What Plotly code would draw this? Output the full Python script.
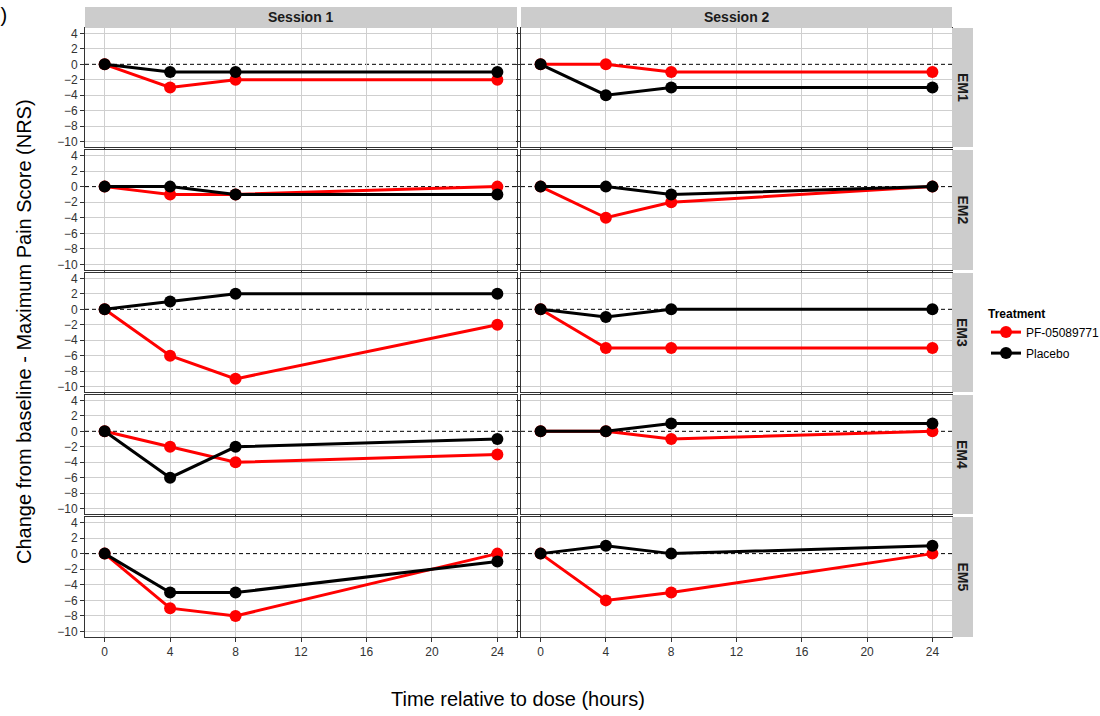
import plotly.graph_objects as go

times = [0, 4, 8, 24]
sessions = ["Session 1", "Session 2"]
subjects = ["EM1", "EM2", "EM3", "EM4", "EM5"]
treatments = ["PF-05089771", "Placebo"]
colors = {"PF-05089771": "#FF0000", "Placebo": "#000000"}

pf_session1 = {"EM1": [0, -3, -2, -2], "EM2": [0, -1, -1, 0], "EM3": [0, -6, -9, -2],
               "EM4": [0, -2, -4, -3], "EM5": [0, -7, -8, 0]}
placebo_session1 = {"EM1": [0, -1, -1, -1], "EM2": [0, 0, -1, -1], "EM3": [0, 1, 2, 2],
                    "EM4": [0, -6, -2, -1], "EM5": [0, -5, -5, -1]}
pf_session2 = {"EM1": [0, 0, -1, -1], "EM2": [0, -4, -2, 0], "EM3": [0, -5, -5, -5],
               "EM4": [0, 0, -1, 0], "EM5": [0, -6, -5, 0]}
placebo_session2 = {"EM1": [0, -4, -3, -3], "EM2": [0, 0, -1, 0], "EM3": [0, -1, 0, 0],
                    "EM4": [0, 0, 1, 1], "EM5": [0, 1, 0, 1]}

data = {("Session 1", "PF-05089771"): pf_session1, ("Session 1", "Placebo"): placebo_session1,
        ("Session 2", "PF-05089771"): pf_session2, ("Session 2", "Placebo"): placebo_session2}

x_ticks = [0, 4, 8, 12, 16, 20, 24]
y_ticks = [4, 2, 0, -2, -4, -6, -8, -10]
y_grid = [v for v in y_ticks if v != 0]

W, H = 1100, 716
col_px = [(85, 517), (521, 952)]
row_px = [(28, 147), (150, 270), (273, 392), (395, 514), (517, 637)]

fig = go.Figure()
layout = {}
font = "Arial, Liberation Sans, sans-serif"

for r, subj in enumerate(subjects):
    for c, sess in enumerate(sessions):
        n = r * 2 + c + 1
        xa = "x" if n == 1 else f"x{n}"
        ya = "y" if n == 1 else f"y{n}"
        for tr in treatments:
            fig.add_trace(go.Scatter(
                x=times, y=data[(sess, tr)][subj], mode="lines+markers",
                line=dict(color=colors[tr], width=3),
                marker=dict(color=colors[tr], size=12),
                name=tr, legendgroup=tr, showlegend=(n == 1),
                xaxis=xa, yaxis=ya, hoverinfo="skip"))
        x0, x1 = col_px[c]
        y0, y1 = row_px[r]
        key = "" if n == 1 else str(n)
        layout[f"xaxis{key}"] = dict(
            domain=[x0 / W, x1 / W], anchor=ya, range=[-1.2, 25.2],
            tickvals=x_ticks, showticklabels=(r == 4),
            ticks="outside", ticklen=4, tickcolor="#333333",
            showgrid=True, gridcolor="#cfcfcf", gridwidth=1,
            showline=True, mirror=True, linecolor="#333333", linewidth=1,
            zeroline=False, automargin=False,
            tickfont=dict(size=12, color="#333333", family=font))
        layout[f"yaxis{key}"] = dict(
            domain=[1 - y1 / H, 1 - y0 / H], anchor=xa, range=[-10.7, 4.7],
            tickvals=y_ticks, showticklabels=(c == 0),
            ticks="outside", ticklen=4, tickcolor="#333333",
            showgrid=False,
            minor=dict(tickmode="array", tickvals=y_grid, showgrid=True,
                       gridcolor="#cfcfcf", gridwidth=1, ticks=""),
            showline=True, mirror=True, linecolor="#333333", linewidth=1,
            zeroline=False, automargin=False,
            tickfont=dict(size=12, color="#333333", family=font))

shapes = []
annotations = []
# dashed zero lines
for n in range(1, 11):
    xa = "x" if n == 1 else f"x{n}"
    ya = "y" if n == 1 else f"y{n}"
    shapes.append(dict(type="line", xref=f"{xa} domain", yref=ya, x0=0, x1=1, y0=0, y1=0,
                       line=dict(color="black", width=1, dash="4px,3px"), layer="below"))

# column strips
for c, sess in enumerate(sessions):
    x0, x1 = col_px[c]
    shapes.append(dict(type="rect", xref="paper", yref="paper", x0=x0 / W, x1=x1 / W,
                       y0=1 - 28 / H, y1=1 - 7 / H, fillcolor="#CCCCCC", line=dict(width=0)))
    annotations.append(dict(text=f"<b>{sess}</b>", xref="paper", yref="paper",
                            x=(x0 + x1) / 2 / W, y=1 - 17.5 / H, showarrow=False,
                            xanchor="center", yanchor="middle",
                            font=dict(size=14, color="#1a1a1a", family=font)))
# row strips
for r, subj in enumerate(subjects):
    y0, y1 = row_px[r]
    shapes.append(dict(type="rect", xref="paper", yref="paper", x0=952 / W, x1=973 / W,
                       y0=1 - y1 / H, y1=1 - y0 / H, fillcolor="#CCCCCC", line=dict(width=0)))
    annotations.append(dict(text=f"<b>{subj}</b>", xref="paper", yref="paper",
                            x=962.5 / W, y=1 - (y0 + y1) / 2 / H, showarrow=False, textangle=90,
                            xanchor="center", yanchor="middle",
                            font=dict(size=14, color="#1a1a1a", family=font)))

annotations.append(dict(text="Change from baseline - Maximum Pain Score (NRS)", xref="paper",
                        yref="paper", x=24 / W, y=1 - 332 / H, showarrow=False, textangle=-90,
                        xanchor="center", yanchor="middle",
                        font=dict(size=20, color="black", family=font)))
annotations.append(dict(text="Time relative to dose (hours)", xref="paper", yref="paper",
                        x=518 / W, y=1 - 699 / H, showarrow=False,
                        xanchor="center", yanchor="middle",
                        font=dict(size=20, color="black", family=font)))
annotations.append(dict(text="D)", xref="paper", yref="paper", x=9 / W, y=1 - 15 / H,
                        xanchor="right", yanchor="middle", showarrow=False,
                        font=dict(size=20, color="black", family=font)))

fig.update_layout(
    **layout, shapes=shapes, annotations=annotations,
    width=W, height=H, margin=dict(l=0, r=0, t=0, b=0, autoexpand=False),
    plot_bgcolor="white", paper_bgcolor="white",
    legend=dict(x=986 / W, y=1 - 302 / H, xanchor="left", yanchor="top",
                title=dict(text="<b>Treatment</b>", font=dict(size=12, color="black", family=font)),
                font=dict(size=12, color="black", family=font), tracegroupgap=2,
                itemwidth=30, bgcolor="rgba(0,0,0,0)"),
)
fig.write_html("out.html", config={"displayModeBar": False},
               post_script="document.body.style.margin='0';document.body.style.padding='0';")
